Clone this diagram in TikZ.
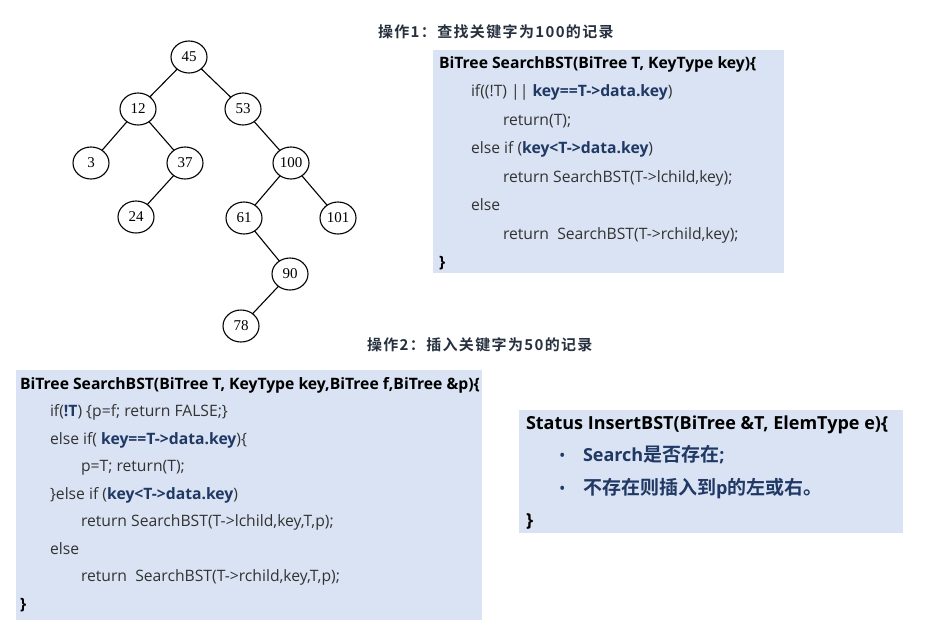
\documentclass[tikz,border=0pt]{standalone}
\usepackage{fontspec}
\setmainfont{Open Sans}
\newfontfamily\cjk[BoldFont={Noto Sans CJK SC Bold}]{Noto Sans CJK SC}
\newfontfamily\treefont{Liberation Serif}
\usepackage{xcolor}
\usetikzlibrary{positioning, shapes.geometric}

\definecolor{boxfill}{HTML}{DAE3F3}
\definecolor{keyblue}{HTML}{1F3864}
\definecolor{codegray}{HTML}{333333}
\definecolor{titlegray}{HTML}{26303E}

\newcommand{\hl}[1]{\textbf{\textcolor{keyblue}{#1}}}
\newcommand{\cjkb}[1]{{\cjk\bfseries\fontsize{19}{19}\selectfont #1}}

\begin{document}
\begin{tikzpicture}[x=1pt, y=-1pt,
  every node/.style={inner sep=0pt, outer sep=0pt},
  treenode/.style={ellipse, draw, line width=1.1pt, minimum width=36pt, minimum height=32pt, font=\treefont\fontsize{15}{15}\selectfont},
  codeline/.style={anchor=base west, text=codegray, font=\fontsize{15.7}{15.7}\selectfont},
  bigline/.style={anchor=base west, text=codegray, font=\fontsize{18}{18}\selectfont},
  bulletdot/.style={anchor=base west, text=keyblue, font=\fontsize{17}{17}\selectfont},
  caption/.style={anchor=west, text=titlegray, font=\cjk\bfseries\fontsize{15}{15}\selectfont\addfontfeature{LetterSpace=9}}]
\useasboundingbox (0,0) rectangle (926,630);
% Binary search tree
\node[treenode] (n45) at (189,57) {45};
\node[treenode] (n12) at (138,109) {12};
\node[treenode] (n53) at (243,109) {53};
\node[treenode] (n3) at (91,163) {3};
\node[treenode] (n37) at (185,163) {37};
\node[treenode] (n100) at (291,163) {100};
\node[treenode] (n24) at (136,217) {24};
\node[treenode] (n61) at (244,218) {61};
\node[treenode] (n101) at (338,218) {101};
\node[treenode] (n90) at (290,274) {90};
\node[treenode] (n78) at (241,326) {78};
\foreach \a/\b in {45/12, 45/53, 12/3, 12/37, 37/24, 53/100, 100/61, 100/101, 61/90, 90/78} {
  \draw[line width=1.1pt] (n\a) -- (n\b);
}
% Captions
\node[caption] (cap1) at (378,32) {操作1：查找关键字为100的记录};
\node[caption] (cap2) at (367,345) {操作2：插入关键字为50的记录};
% Operation 1: search
\fill[boxfill] (433,50) rectangle (784,273);
\node[codeline] (a1) at (439,68) {\textbf{\textcolor{black}{BiTree SearchBST(BiTree T, KeyType key)\{}}};
\node[codeline] (a2) at (471,96) {if((!T) || \hl{key==T->data.key})};
\node[codeline] (a3) at (503,125) {return(T);};
\node[codeline] (a4) at (471,153) {else if (\hl{key<T->data.key})};
\node[codeline] (a5) at (503,182) {return SearchBST(T->lchild,key);};
\node[codeline] (a6) at (471,210) {else};
\node[codeline] (a7) at (503,239) {return\ \ SearchBST(T->rchild,key);};
\node[codeline] (a8) at (439,267) {\textbf{\textcolor{black}{\}}}};
% Operation 2: search with parent
\fill[boxfill] (16,370) rectangle (482,620);
\node[codeline] (b1) at (20,389) {\textbf{\textcolor{black}{BiTree SearchBST(BiTree T, KeyType key,BiTree f,BiTree \&p)\{}}};
\node[codeline] (b2) at (50,416) {if(\hl{!T}) \{p=f; return FALSE;\}};
\node[codeline] (b3) at (50,444) {else if( \hl{key==T->data.key})\{};
\node[codeline] (b4) at (81,471) {p=T; return(T);};
\node[codeline] (b5) at (50,499) {\}else if (\hl{key<T->data.key})};
\node[codeline] (b6) at (81,526) {return SearchBST(T->lchild,key,T,p);};
\node[codeline] (b7) at (50,554) {else};
\node[codeline] (b8) at (81,581) {return\ \ SearchBST(T->rchild,key,T,p);};
\node[codeline] (b9) at (20,609) {\textbf{\textcolor{black}{\}}}};
% Insert
\fill[boxfill] (519,410) rectangle (903,533);
\node[bigline] (c1) at (526,429) {\textbf{\textcolor{black}{Status InsertBST(BiTree \&T, ElemType e)\{}}};
\node[bigline] (c2) at (583,461) {\hl{Search\cjkb{是否存在};}};
\node[bigline] (c3) at (583,494) {\hl{\cjkb{不存在则插入到}p\cjkb{的左或右。}}};
\node[bulletdot] (d2) at (559,461) {\textbullet};
\node[bulletdot] (d3) at (559,494) {\textbullet};
\node[bigline] (c4) at (526,526) {\textbf{\textcolor{black}{\}}}};
\end{tikzpicture}
\end{document}
